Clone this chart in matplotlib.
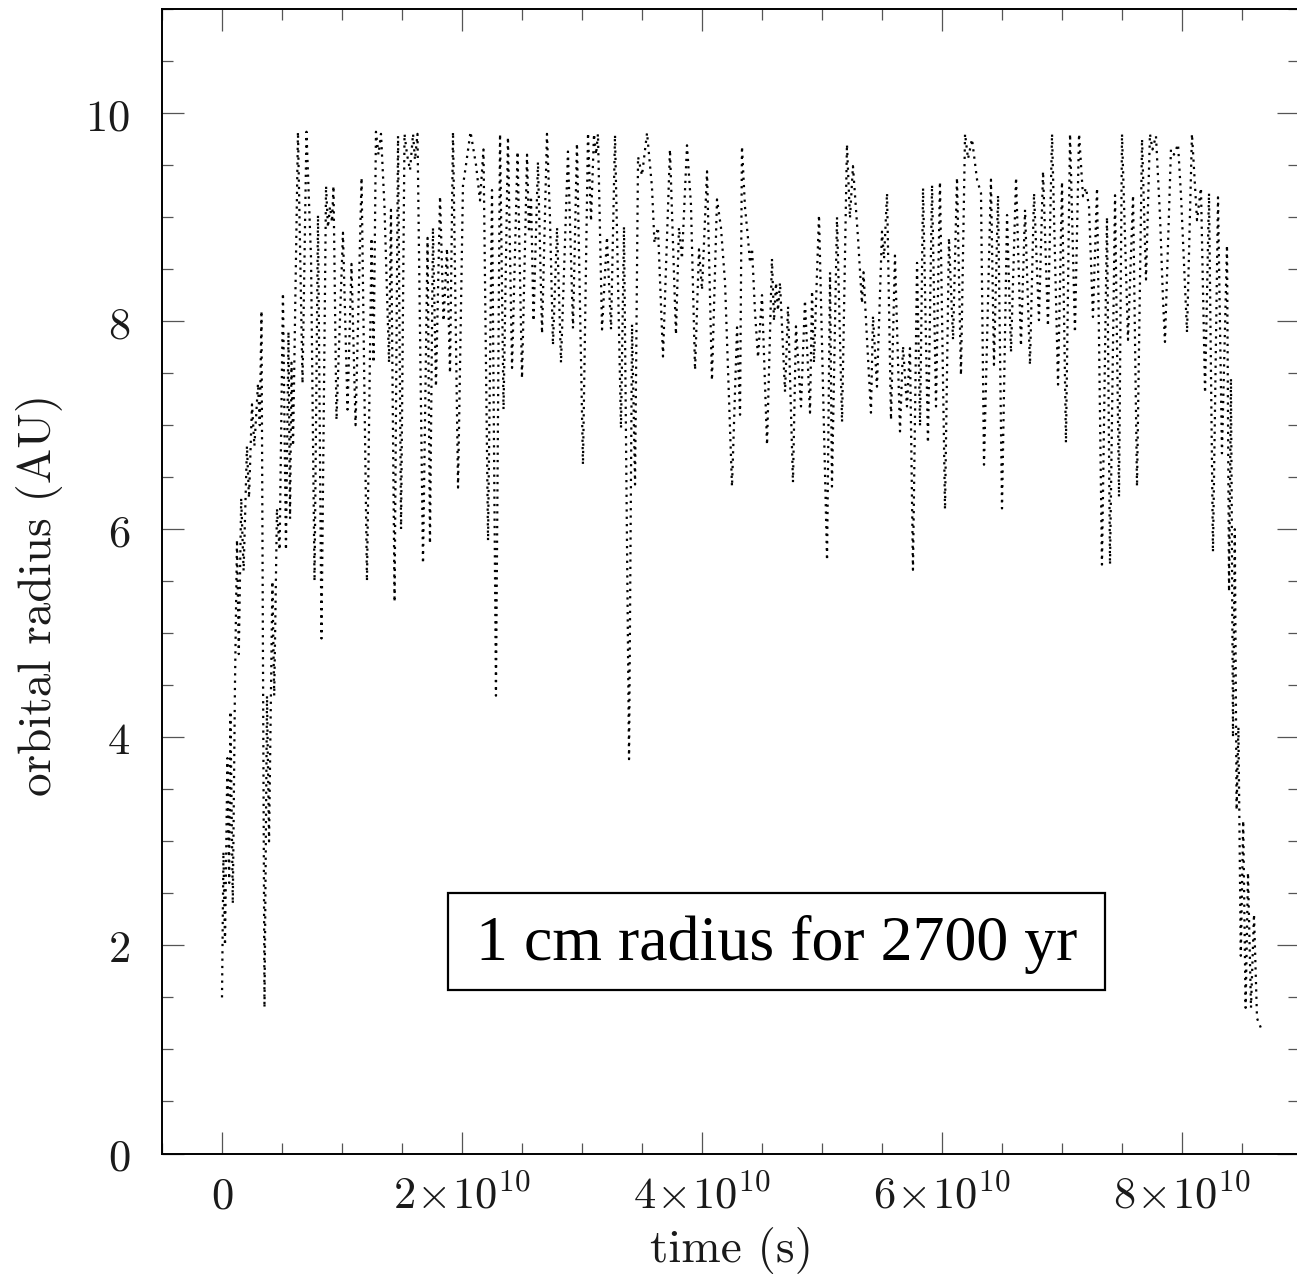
import numpy as np
import matplotlib
matplotlib.use("Agg")
import matplotlib.pyplot as plt
from matplotlib.ticker import MultipleLocator, FuncFormatter
from matplotlib.patches import Rectangle

plt.rcParams['mathtext.fontset'] = 'cm'

# ---- data: time (units of 1e10 s) and orbital radius (AU) ----
# early, noisy inward-scattered phase
early_t = [0.000, 0.012, 0.025, 0.045, 0.060, 0.070, 0.090, 0.108, 0.125, 0.140,
           0.160, 0.180, 0.208, 0.225, 0.250, 0.270, 0.300, 0.315, 0.329, 0.354,
           0.375, 0.392, 0.420, 0.435, 0.458, 0.480]
early_r = [1.50, 2.90, 2.00, 3.80, 2.60, 4.25, 2.40, 4.50, 5.90, 4.80,
           6.30, 5.60, 6.80, 6.30, 7.20, 6.80, 7.40, 7.00, 8.10, 1.40,
           4.40, 3.00, 5.50, 4.40, 6.20, 5.80]

# main oscillating phase (peaks and troughs)
main_t = [
    0.508, 0.533, 0.554,
    0.567, 0.579, 0.592, 0.633, 0.671, 0.704, 0.742, 0.771, 0.800, 0.829,
    0.867, 0.883, 0.900, 0.917, 0.929, 0.954, 1.008, 1.046, 1.079, 1.113,
    1.163, 1.208, 1.246, 1.263, 1.283, 1.304, 1.325, 1.354, 1.392, 1.408,
    1.438, 1.467, 1.492, 1.521, 1.542, 1.567, 1.592, 1.608, 1.629, 1.675,
    1.713, 1.733, 1.758, 1.783, 1.817, 1.846, 1.875, 1.900, 1.925, 1.967,
    2.008, 2.033, 2.071, 2.117, 2.150, 2.179, 2.217, 2.250, 2.283, 2.317,
    2.346, 2.383, 2.417, 2.463, 2.500, 2.542, 2.558, 2.575, 2.596, 2.633,
    2.667, 2.708, 2.733, 2.758, 2.792, 2.825, 2.883, 2.925, 2.958, 3.008,
    3.050, 3.075, 3.100, 3.117, 3.133, 3.167, 3.208, 3.242, 3.275, 3.325,
    3.350, 3.392, 3.417, 3.442, 3.467, 3.500, 3.542, 3.583, 3.604, 3.633,
    3.675, 3.733, 3.783, 3.808, 3.833, 3.875, 3.908, 3.942, 3.975, 4.000,
    4.042, 4.083, 4.125, 4.158, 4.192, 4.250, 4.292, 4.317, 4.333, 4.358,
    4.383, 4.400, 4.417, 4.442, 4.467, 4.500, 4.542, 4.583, 4.600, 4.617,
    4.633, 4.650, 4.692, 4.717, 4.758, 4.783, 4.825, 4.858, 4.900, 4.917,
    4.933, 4.975, 5.042, 5.067, 5.083, 5.125, 5.167, 5.208, 5.233, 5.258,
    5.300, 5.333, 5.346, 5.367, 5.408, 5.425, 5.458, 5.500, 5.517, 5.542,
    5.575, 5.608, 5.650, 5.675, 5.708, 5.733, 5.758, 5.792, 5.817, 5.842,
    5.883, 5.917, 5.950, 5.983, 6.025, 6.058, 6.092, 6.125, 6.158, 6.192,
    6.217, 6.250, 6.292, 6.325, 6.350, 6.408, 6.433, 6.467, 6.500, 6.542,
    6.575, 6.617, 6.658, 6.692, 6.733, 6.767, 6.808, 6.842, 6.883, 6.917,
    6.967, 7.000, 7.033, 7.067, 7.108, 7.142, 7.175, 7.200, 7.225, 7.258,
    7.292, 7.333, 7.375, 7.400, 7.442, 7.475, 7.500, 7.550, 7.592, 7.625,
    7.667, 7.700, 7.733, 7.754, 7.783, 7.817, 7.842, 7.858, 7.908, 7.933,
    7.967, 7.992, 8.042, 8.083, 8.125, 8.158, 8.192, 8.225, 8.258, 8.300,
    8.333, 8.375,
]
main_r = [
    8.27, 5.80, 7.90,
    6.10, 7.60, 6.80, 9.82, 7.40, 9.82, 8.60, 5.50, 9.02, 4.95,
    9.30, 8.90, 9.10, 8.95, 9.30, 7.05, 8.85, 7.15, 8.55, 7.00,
    9.38, 5.50, 8.80, 7.60, 9.82, 9.60, 9.80, 9.10, 7.60, 9.07,
    5.30, 9.78, 6.00, 9.80, 9.60, 9.45, 9.80, 9.55, 9.80, 5.67,
    8.80, 5.86, 8.90, 7.37, 9.20, 8.00, 8.70, 7.50, 9.82, 6.40,
    9.30, 9.50, 9.82, 9.50, 9.16, 9.65, 5.89, 9.26, 4.40, 9.80,
    7.15, 9.77, 7.55, 9.63, 7.45, 9.60, 8.85, 9.20, 8.00, 9.53,
    7.88, 9.80, 9.00, 7.77, 8.90, 7.60, 9.63, 7.93, 9.71, 6.62,
    9.81, 8.96, 9.80, 9.60, 9.80, 7.92, 8.81, 7.92, 9.79, 6.97,
    8.91, 3.79, 7.97, 6.43, 9.58, 9.40, 9.81, 9.29, 8.75, 8.90,
    7.66, 9.65, 7.87, 8.90, 8.60, 9.69, 9.12, 7.53, 8.69, 8.30,
    9.44, 7.43, 9.17, 8.90, 8.37, 6.41, 7.94, 7.10, 9.68, 9.10,
    8.80, 8.56, 8.70, 8.08, 7.65, 8.25, 6.81, 8.60, 8.00, 8.37,
    8.10, 8.37, 7.32, 8.14, 6.45, 7.95, 7.18, 8.20, 7.12, 8.29,
    7.60, 9.02, 5.70, 8.47, 6.41, 9.00, 7.03, 9.70, 8.99, 9.49,
    8.80, 8.17, 8.47, 8.00, 7.12, 8.05, 7.37, 8.86, 8.60, 9.23,
    7.05, 8.63, 6.94, 7.76, 7.18, 7.74, 5.61, 8.56, 6.99, 9.28,
    6.83, 9.31, 7.18, 9.34, 6.19, 8.80, 7.82, 9.38, 7.48, 9.80,
    9.56, 9.75, 9.36, 9.23, 6.62, 9.36, 7.58, 9.21, 6.20, 9.02,
    7.70, 9.38, 7.76, 9.07, 7.58, 9.23, 8.01, 9.44, 7.95, 9.80,
    7.39, 9.34, 6.83, 9.80, 7.89, 9.80, 9.20, 9.28, 9.10, 8.04,
    9.28, 5.66, 9.00, 5.66, 9.21, 6.31, 9.80, 7.82, 9.21, 6.41,
    9.75, 8.40, 9.80, 9.65, 9.78, 9.00, 8.20, 7.80, 9.65, 9.60,
    9.70, 9.20, 7.89, 9.80, 8.97, 9.28, 7.31, 9.23, 5.78, 9.19,
    6.73, 8.73,
]

# final inward drift
tail_t = [8.392, 8.408, 8.425, 8.440, 8.455, 8.470, 8.490, 8.510, 8.530, 8.550,
          8.575, 8.600, 8.625, 8.667]
tail_r = [5.40, 7.45, 4.00, 6.00, 3.30, 4.10, 1.90, 3.20, 1.40, 2.70,
          1.40, 2.30, 1.30, 1.18]

x_ticks_e10 = [0, 2, 4, 6, 8]
y_ticks = [0, 2, 4, 6, 8, 10]
box_text = "1 cm radius for 2700 yr"

t = np.array(early_t + main_t + tail_t) * 1e10
r = np.array(early_r + main_r + tail_r)

W, H = 1297, 1278
fig = plt.figure(figsize=(W / 100, H / 100), dpi=100)
ax_l, ax_r, ax_t, ax_b = 162, 1299, 9, 1153.5
ax = fig.add_axes([ax_l / W, 1 - ax_b / H, (ax_r - ax_l) / W, (ax_b - ax_t) / H])

ax.plot(t, r, color='black', lw=1.6, linestyle=(0, (1.0, 2.3)))

ax.set_xlim(-0.5e10, (ax_r - 222) / 120 * 1e10)
ax.set_ylim(0, 11)

ax.set_xticks([v * 1e10 for v in x_ticks_e10])
ax.xaxis.set_minor_locator(MultipleLocator(0.5e10))
ax.set_yticks(y_ticks)
ax.yaxis.set_minor_locator(MultipleLocator(0.5))


def xfmt(v, pos):
    k = int(round(v / 1e10))
    if k == 0:
        return r'$0$'
    return r'$%d\!\times\!10^{10}$' % k


ax.xaxis.set_major_formatter(FuncFormatter(xfmt))
ax.yaxis.set_major_formatter(FuncFormatter(lambda v, p: r'$%d$' % int(round(v))))

ax.tick_params(which='both', direction='in', top=True, right=True,
               color='#555555', width=0.9)
ax.tick_params(which='major', length=16, labelsize=32, labelcolor='#1a1a1a')
ax.tick_params(which='minor', length=8)
ax.tick_params(axis='x', which='major', pad=15)
ax.tick_params(axis='y', which='major', pad=23)
for s in ax.spines.values():
    s.set_linewidth(1.4)

fig.text(731 / W, 1 - 1250 / H, 'time (s)', family='cmr10', fontsize=34,
         ha='center', va='center', color='#1a1a1a')
fig.text(40 / W, 1 - 595 / H, 'orbital radius (AU)', family='cmr10', fontsize=34,
         rotation=90, ha='center', va='center', color='#1a1a1a')

# annotation box
bx0, bx1, by0, by1 = 448, 1105, 893, 990
ax.add_patch(Rectangle(((bx0 - ax_l) / (ax_r - ax_l), (ax_b - by1) / (ax_b - ax_t)),
                       (bx1 - bx0) / (ax_r - ax_l), (by1 - by0) / (ax_b - ax_t),
                       transform=ax.transAxes, fill=False, lw=1.6, ec='black'))
ax.text(((bx0 + bx1) / 2 - ax_l) / (ax_r - ax_l), (ax_b - 945) / (ax_b - ax_t), box_text,
        transform=ax.transAxes, family='Liberation Serif', fontsize=46,
        ha='center', va='center')

fig.savefig('out.png', dpi=100)
